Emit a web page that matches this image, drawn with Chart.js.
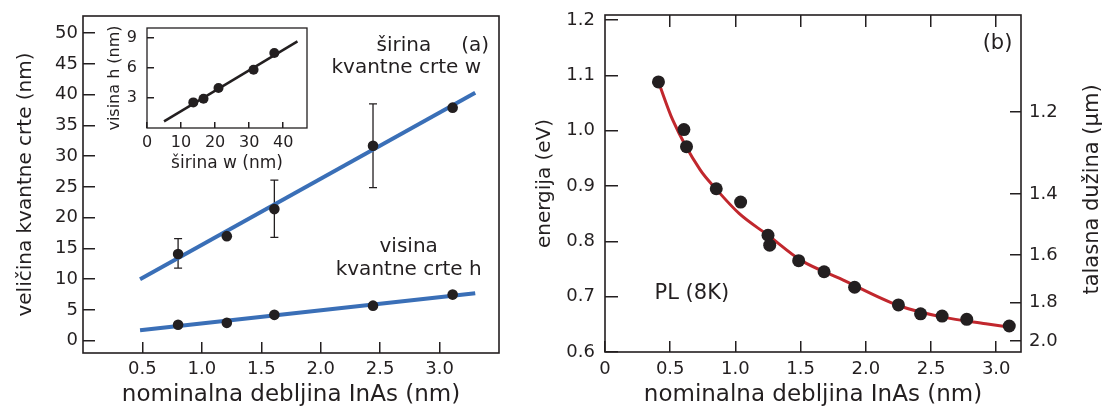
<!DOCTYPE html>
<html>
<head>
<meta charset="utf-8">
<script src="https://cdn.jsdelivr.net/npm/chart.js@4.4.1/dist/chart.umd.min.js"></script>
<style>
  body { margin: 0; background: #fff; width: 1108px; height: 409px; position: relative; overflow: hidden; }
  .box { position: absolute; }
</style>
</head>
<body>
<div class="box" style="left:0;top:0;width:520px;height:409px"><canvas id="chartA"></canvas></div>
<div class="box" style="left:100px;top:20px;width:215px;height:160px"><canvas id="chartInset"></canvas></div>
<div class="box" style="left:520px;top:0;width:588px;height:409px"><canvas id="chartB"></canvas></div>
<script>
const FONT = "'DejaVu Sans', sans-serif";
const INK = '#231f20';
const BLUE = '#3a6fb7';
const RED = '#c1272d';

// (a) wire size vs nominal InAs thickness
const thickA = [0.80, 1.21, 1.61, 2.44, 3.11];
const widthW = [14.1, 17.0, 21.4, 31.7, 37.9];
const widthErrLow = [11.8, null, 16.8, 24.9, null];
const widthErrHigh = [16.6, null, 26.1, 38.5, null];
const heightH = [2.6, 2.9, 4.2, 5.7, 7.5];
const fitThickA = [0.48, 3.30];
const fitWidthW = [10.0, 40.3];
const fitHeightH = [1.7, 7.7];
const xTicksA = [0.5, 1.0, 1.5, 2.0, 2.5, 3.0];
const yTicksA = [0, 5, 10, 15, 20, 25, 30, 35, 40, 45, 50];

// inset: height vs width
const insetW = [13.6, 16.6, 21.0, 31.3, 37.4];
const insetH = [2.56, 2.93, 4.0, 5.83, 7.5];
const insetFitW = [5, 44.2];
const insetFitH = [0.66, 8.66];
const insetXTicks = [0, 10, 20, 30, 40];
const insetYTicks = [3, 6, 9];

// (b) PL energy vs nominal InAs thickness
const plThick = [0.41, 0.605, 0.625, 0.853, 1.04, 1.25, 1.263, 1.485, 1.68, 1.914, 2.25, 2.42, 2.585, 2.774, 3.10];
const plEnergy = [1.088, 1.002, 0.971, 0.895, 0.871, 0.811, 0.793, 0.765, 0.745, 0.717, 0.685, 0.669, 0.665, 0.659, 0.647];
const curveThick = [0.41, 0.52, 0.73, 0.85, 1.03, 1.25, 1.5, 1.8, 2.25, 2.59, 2.92, 3.1];
const curveEnergy = [1.088, 1.019, 0.929, 0.895, 0.85, 0.811, 0.766, 0.733, 0.684, 0.663, 0.651, 0.645];
const xTicksB = [0, 0.5, 1.0, 1.5, 2.0, 2.5, 3.0];
const energyTicks = [0.6, 0.7, 0.8, 0.9, 1.0, 1.1, 1.2];
const wavelengthTicks = [1.2, 1.4, 1.6, 1.8, 2.0];
const EV_UM = 1.24;

function pts(xs, ys) {
    return xs.map((x, i) => ({ x: x, y: ys[i] }));
}

function axis(o) {
    return {
        type: 'linear',
        position: o.position,
        min: o.min,
        max: o.max,
        afterBuildTicks: s => { s.ticks = o.ticks.map(v => ({ value: v })); },
        afterFit: s => {
            if (s.isHorizontal()) s.height = o.size; else s.width = o.size;
            // labels must not push the plot area around
            s.paddingTop = s.paddingBottom = s.paddingLeft = s.paddingRight = 0;
        },
        ticks: {
            display: o.labels !== false,
            autoSkip: false,
            maxRotation: 0,
            padding: o.pad || 0,
            color: INK,
            font: { family: FONT, size: o.fontSize || 18 },
            callback: o.fmt || (v => v)
        },
        grid: { drawOnChartArea: false, tickLength: -o.tick, color: INK, lineWidth: o.tickWidth || 1.5 },
        border: { display: false },
        title: o.title
            ? { display: true, text: o.title, color: INK, font: { family: FONT, size: o.titleSize || 20 }, padding: o.titlePad }
            : { display: false }
    };
}

function framePlugin(width) {
    return {
        id: 'frame',
        afterDraw(chart) {
            const a = chart.chartArea, ctx = chart.ctx;
            ctx.save();
            ctx.strokeStyle = INK;
            ctx.lineWidth = width;
            ctx.strokeRect(a.left, a.top, a.right - a.left, a.bottom - a.top);
            ctx.restore();
        }
    };
}

// text placed at data coordinates
function notesPlugin(notes) {
    return {
        id: 'notes',
        afterDraw(chart) {
            const ctx = chart.ctx, xs = chart.scales.x, ys = chart.scales.y;
            ctx.save();
            ctx.fillStyle = INK;
            ctx.textAlign = 'center';
            ctx.textBaseline = 'middle';
            notes.forEach(n => {
                ctx.font = n.size + 'px ' + FONT;
                ctx.fillText(n.text, xs.getPixelForValue(n.x), ys.getPixelForValue(n.y));
            });
            ctx.restore();
        }
    };
}

const errorBars = {
    id: 'errorBars',
    beforeDatasetsDraw(chart) {
        const ctx = chart.ctx, xs = chart.scales.x, ys = chart.scales.y;
        ctx.save();
        ctx.strokeStyle = INK;
        ctx.lineWidth = 1.3;
        thickA.forEach((t, i) => {
            if (widthErrLow[i] == null) return;
            const px = xs.getPixelForValue(t);
            const y1 = ys.getPixelForValue(widthErrLow[i]);
            const y2 = ys.getPixelForValue(widthErrHigh[i]);
            ctx.beginPath();
            ctx.moveTo(px, y1); ctx.lineTo(px, y2);
            ctx.moveTo(px - 4, y1); ctx.lineTo(px + 4, y1);
            ctx.moveTo(px - 4, y2); ctx.lineTo(px + 4, y2);
            ctx.stroke();
        });
        ctx.restore();
    }
};

const rightTitle = {
    id: 'rightTitle',
    afterDraw(chart) {
        const ctx = chart.ctx, a = chart.chartArea;
        ctx.save();
        ctx.translate(chart.width - 15, (a.top + a.bottom) / 2 + 6);
        ctx.rotate(-Math.PI / 2);
        ctx.fillStyle = INK;
        ctx.font = '21px ' + FONT;
        ctx.textAlign = 'center';
        ctx.textBaseline = 'middle';
        ctx.fillText('talasna dužina (μm)', 0, 0);
        ctx.restore();
    }
};

const common = {
    animation: false,
    responsive: true,
    maintainAspectRatio: false,
    devicePixelRatio: 1,
    plugins: { legend: { display: false }, tooltip: { enabled: false } }
};

function dots(data, r) {
    return { data: data, showLine: false, pointRadius: r, pointHoverRadius: r, pointBackgroundColor: INK, pointBorderWidth: 0 };
}

function line(data, color, w, extra) {
    return Object.assign({ data: data, showLine: true, borderColor: color, borderWidth: w, pointRadius: 0, pointHoverRadius: 0, fill: false }, extra || {});
}

new Chart(document.getElementById('chartA'), {
    type: 'scatter',
    data: {
        datasets: [
            dots(pts(thickA, widthW), 5.3),
            dots(pts(thickA, heightH), 5.3),
            line(pts(fitThickA, fitWidthW), BLUE, 4),
            line(pts(fitThickA, fitHeightH), BLUE, 4)
        ]
    },
    options: Object.assign({}, common, {
        layout: { padding: { top: 16, right: 21, left: 0, bottom: 0 } },
        scales: {
            x: axis({ position: 'bottom', min: 0, max: 3.5, ticks: xTicksA, size: 56, tick: 11, pad: 17,
                fmt: v => v.toFixed(1), title: 'nominalna debljina InAs (nm)', titleSize: 23, titlePad: { top: 0, bottom: 0 } }),
            y: axis({ position: 'left', min: -2, max: 52.8, ticks: yTicksA, size: 83, tick: 12, pad: 17,
                title: 'veličina kvantne crte (nm)', titlePad: { top: 14, bottom: 0 } })
        }
    }),
    plugins: [errorBars, framePlugin(1.6), notesPlugin([
        { text: 'širina', x: 2.70, y: 48.0, size: 20 },
        { text: 'kvantne crte w', x: 2.72, y: 44.3, size: 20 },
        { text: '(a)', x: 3.30, y: 48.0, size: 20 },
        { text: 'visina', x: 2.74, y: 15.3, size: 20 },
        { text: 'kvantne crte h', x: 2.74, y: 11.5, size: 20 }
    ])]
});

new Chart(document.getElementById('chartInset'), {
    type: 'scatter',
    data: {
        datasets: [
            dots(pts(insetW, insetH), 5),
            line(pts(insetFitW, insetFitH), INK, 2.5)
        ]
    },
    options: Object.assign({}, common, {
        layout: { padding: { top: 8, right: 8, left: 0, bottom: 0 } },
        scales: {
            x: axis({ position: 'bottom', min: 0, max: 47, ticks: insetXTicks, size: 52, tick: 6, pad: 11, fontSize: 16,
                title: 'širina w (nm)', titleSize: 17, titlePad: { top: 0, bottom: 6 } }),
            y: axis({ position: 'left', min: 0, max: 10, ticks: insetYTicks, size: 47, tick: 7, pad: 17, fontSize: 16,
                title: 'visina h (nm)', titleSize: 16, titlePad: { top: 5, bottom: 0 } })
        }
    }),
    plugins: [framePlugin(1.3)]
});

new Chart(document.getElementById('chartB'), {
    type: 'scatter',
    data: {
        datasets: [
            dots(pts(plThick, plEnergy), 6.5),
            line(pts(curveThick, curveEnergy), RED, 3, { cubicInterpolationMode: 'monotone' })
        ]
    },
    options: Object.assign({}, common, {
        layout: { padding: 0 },
        scales: {
            x: axis({ position: 'bottom', min: 0, max: 3.19, ticks: xTicksB, size: 57, tick: 11, pad: 18,
                fmt: v => v === 0 ? '0' : v.toFixed(1), title: 'nominalna debljina InAs (nm)', titleSize: 23, titlePad: { top: 0, bottom: 0 } }),
            xTop: axis({ position: 'top', min: 0, max: 3.19, ticks: xTicksB.slice(1), size: 15, tick: 12, labels: false }),
            y: axis({ position: 'left', min: 0.6, max: 1.209, ticks: energyTicks, size: 85, tick: 13, pad: 23,
                fmt: v => v.toFixed(1), title: 'energija (eV)', titlePad: { top: 13, bottom: 0 } }),
            y2: Object.assign(axis({ position: 'right', min: 0.6, max: 1.209, ticks: [], size: 87, tick: 11, pad: 19,
                fmt: v => (EV_UM / v).toFixed(1) }), {
                afterBuildTicks: s => { s.ticks = wavelengthTicks.map(l => ({ value: EV_UM / l })); }
            })
        }
    }),
    plugins: [framePlugin(1.6), rightTitle, notesPlugin([
        { text: '(b)', x: 3.01, y: 1.158, size: 21 },
        { text: 'PL (8K)', x: 0.666, y: 0.706, size: 21 }
    ])]
});
</script>
</body>
</html>
